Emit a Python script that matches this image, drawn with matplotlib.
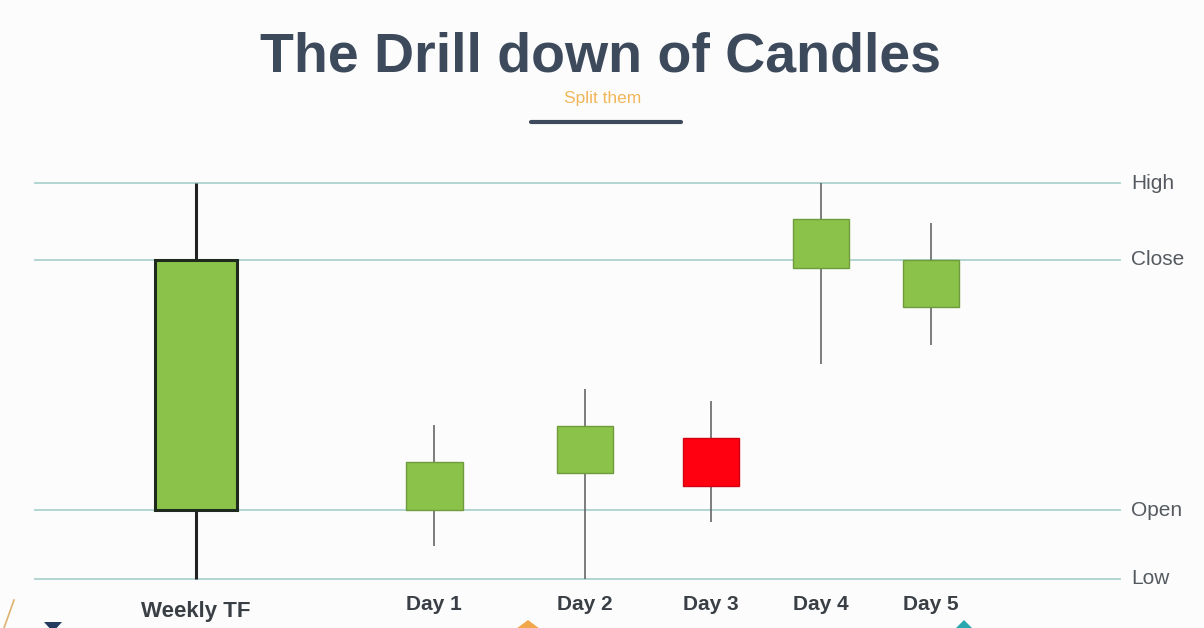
import matplotlib
matplotlib.use("Agg")
import matplotlib.pyplot as plt
from matplotlib.patches import Rectangle, Polygon

# ---- data ----
labels = ["Weekly TF", "Day 1", "Day 2", "Day 3", "Day 4", "Day 5"]
opens  = [17.4, 17.4, 26.8, 35.6, 78.5, 68.7]
closes = [80.6, 29.5, 38.6, 23.5, 90.9, 80.6]
highs  = [100.0, 38.9, 48.0, 44.9, 100.0, 89.9]
lows   = [0.0, 8.3, 0.0, 14.4, 54.3, 59.1]
level_names  = ["High", "Close", "Open", "Low"]
level_values = [100.0, 80.6, 17.4, 0.0]

# ---- layout (pixel-based positions) ----
W, H = 1204, 628
x_pos = [196, 434, 585, 711, 821, 931]
widths = [82, 57, 56, 56, 56, 56]
px_per_unit = 3.96
y_low_px = 579

fig = plt.figure(figsize=(W / 100, H / 100), dpi=100)
fig.patch.set_facecolor("#fcfcfc")
ax = fig.add_axes([0, 0, 1, 1])
ax.set_facecolor("#fcfcfc")
ax.set_xlim(0, W)
ax.set_ylim((y_low_px - H) / px_per_unit, y_low_px / px_per_unit)
ax.axis("off")

FONT = "Liberation Sans"
line_col = "#acd3cf"

# horizontal level lines
for name, v in zip(level_names, level_values):
    ax.plot([35, 1120], [v, v], color=line_col, lw=1.3, zorder=1)
    ax.text(1131, v, name, fontsize=15, family=FONT, color="#555a60",
            va="center", ha="left")

green = "#8bc24a"
red = "#ff0010"
for i, (x, w, o, c, h, l) in enumerate(zip(x_pos, widths, opens, closes, highs, lows)):
    up = c >= o
    weekly = i == 0
    face = green if up else red
    if weekly:
        edge, wick_col, wick_lw, edge_lw = "#1e2a1e", "#222222", 2.2, 2.2
    else:
        edge = "#6f9a3e" if up else "#d00010"
        wick_col, wick_lw, edge_lw = "#5a5a5a", 1.1, 1.0
    lo_b, hi_b = min(o, c), max(o, c)
    ax.plot([x, x], [hi_b, h], color=wick_col, lw=wick_lw, zorder=2, solid_capstyle="butt")
    ax.plot([x, x], [l, lo_b], color=wick_col, lw=wick_lw, zorder=2, solid_capstyle="butt")
    ax.add_patch(Rectangle((x - w / 2, lo_b), w, hi_b - lo_b, facecolor=face,
                           edgecolor=edge, lw=edge_lw, zorder=3))

# x labels
label_y_px = [611, 604, 604, 604, 604, 604]
label_sizes = [16, 15, 15, 15, 15, 15]
for x, lab, ypx, fs in zip(x_pos, labels, label_y_px, label_sizes):
    ax.text(x, (y_low_px - ypx) / px_per_unit, lab, fontsize=fs, family=FONT,
            fontweight="bold", color="#3a3f45", ha="center", va="center")

# title & subtitle
fig.text(601 / W, 1 - 58 / H, "The Drill down of Candles", fontsize=40, family=FONT,
         fontweight="bold", color="#3d4a5c", ha="center", va="center")
fig.text(603 / W, 1 - 99 / H, "Split them", fontsize=12.5, family=FONT,
         color="#f2b65a", ha="center", va="center")
ax.plot([531, 681], [(y_low_px - 122) / px_per_unit] * 2, color="#3d4a5c", lw=3,
        solid_capstyle="round")

# bottom-edge slide decorations
def px(xp, yp):
    return (xp, (y_low_px - yp) / px_per_unit)

ax.add_patch(Polygon([px(44, 622), px(62, 622), px(53, 632)], closed=True,
                     facecolor="#243a5e", edgecolor="none"))
ax.add_patch(Polygon([px(512, 632), px(528, 620), px(544, 632)], closed=True,
                     facecolor="#f0a84a", edgecolor="none"))
ax.add_patch(Polygon([px(952, 632), px(964, 620), px(976, 632)], closed=True,
                     facecolor="#2aa8b0", edgecolor="none"))
ax.plot([px(4, 628)[0], px(14, 600)[0]], [px(4, 628)[1], px(14, 600)[1]],
        color="#e0b070", lw=1.2)

fig.savefig("out.png", dpi=100, facecolor=fig.get_facecolor())
